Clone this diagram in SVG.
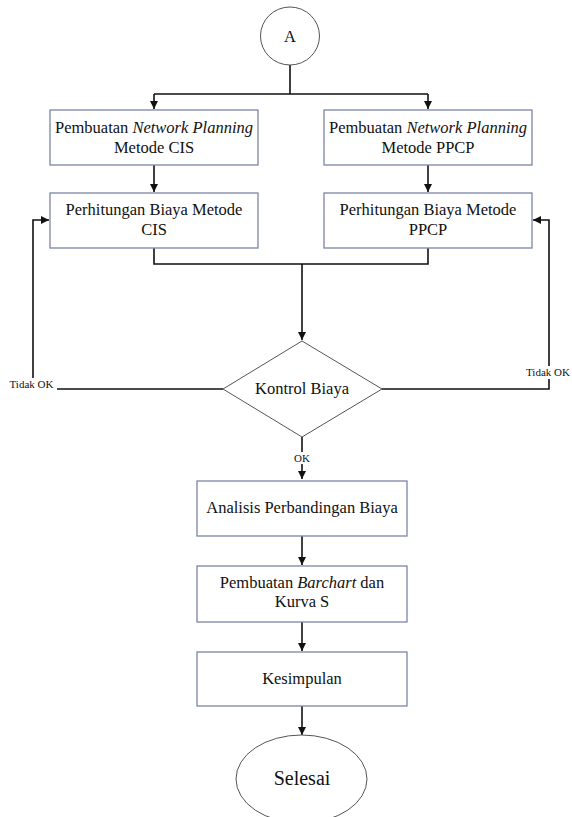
<svg xmlns="http://www.w3.org/2000/svg" width="572" height="817" viewBox="0 0 572 817">
<style>
text{font-family:'Liberation Serif','DejaVu Serif',serif;fill:#111;text-anchor:middle}
.t{font-size:16.5px}
.s{font-size:11px}
.box{fill:#fff;stroke:#7b86a6;stroke-width:1.3}
.shp{fill:#fff;stroke:#555;stroke-width:1}
.ln{fill:none;stroke:#111;stroke-width:1.6}
</style>
<defs>
<marker id="ah" viewBox="0 0 10 10" refX="10" refY="5" markerWidth="8" markerHeight="8" markerUnits="userSpaceOnUse" orient="auto">
<path d="M0,0 L10,5 L0,10 Z" fill="#111"/>
</marker>
</defs>
<g id="connectors">
<path class="ln" d="M290,65 V94 M154,94 H428" />
<path class="ln" d="M154,94 V109" marker-end="url(#ah)"/>
<path class="ln" d="M428,94 V109" marker-end="url(#ah)"/>
<path class="ln" d="M154,165 V192" marker-end="url(#ah)"/>
<path class="ln" d="M428,165 V192" marker-end="url(#ah)"/>
<path class="ln" d="M154,248 V264 H428 V248" />
<path class="ln" d="M302,264 V340" marker-end="url(#ah)"/>
<path class="ln" d="M223,389 H33 V220 H49" marker-end="url(#ah)"/>
<path class="ln" d="M382,389 H549 V220 H533" marker-end="url(#ah)"/>
<path class="ln" d="M302,437 V479" marker-end="url(#ah)"/>
<path class="ln" d="M302,536 V565" marker-end="url(#ah)"/>
<path class="ln" d="M302,622 V651" marker-end="url(#ah)"/>
<path class="ln" d="M302,706 V735" marker-end="url(#ah)"/>
<rect x="6" y="378" width="51" height="13" fill="#fff"/>
<text class="s" x="31.5" y="388">Tidak OK</text>
<rect x="523" y="366" width="49" height="13" fill="#fff"/>
<text class="s" x="548" y="376">Tidak OK</text>
<rect x="293" y="452" width="18" height="12" fill="#fff"/>
<text class="s" x="302" y="462">OK</text>
</g>
<g id="start">
<ellipse class="shp" cx="290" cy="36" rx="29.5" ry="29"/>
<text class="t" x="290" y="42">A</text>
</g>
<g id="np-cis">
<rect class="box" x="50" y="110" width="208" height="55"/>
<text class="t" x="154" y="133">Pembuatan <tspan font-style="italic">Network Planning</tspan></text>
<text class="t" x="154" y="153">Metode CIS</text>
</g>
<g id="np-ppcp">
<rect class="box" x="324" y="110" width="208" height="55"/>
<text class="t" x="428" y="133">Pembuatan <tspan font-style="italic">Network Planning</tspan></text>
<text class="t" x="428" y="153">Metode PPCP</text>
</g>
<g id="biaya-cis">
<rect class="box" x="50" y="193" width="208" height="55"/>
<text class="t" x="154" y="215">Perhitungan Biaya Metode</text>
<text class="t" x="154" y="235">CIS</text>
</g>
<g id="biaya-ppcp">
<rect class="box" x="324" y="193" width="208" height="55"/>
<text class="t" x="428" y="215">Perhitungan Biaya Metode</text>
<text class="t" x="428" y="235">PPCP</text>
</g>
<g id="kontrol">
<polygon class="shp" points="302,341 382,389 302,437 223,389"/>
<text class="t" x="302" y="394">Kontrol Biaya</text>
</g>
<g id="analisis">
<rect class="box" x="197" y="481" width="210" height="55"/>
<text class="t" x="302" y="513">Analisis Perbandingan Biaya</text>
</g>
<g id="barchart">
<rect class="box" x="197" y="566" width="210" height="56"/>
<text class="t" x="302" y="588">Pembuatan <tspan font-style="italic">Barchart</tspan> dan</text>
<text class="t" x="302" y="607">Kurva S</text>
</g>
<g id="kesimpulan">
<rect class="box" x="197" y="652" width="210" height="54"/>
<text class="t" x="302" y="684">Kesimpulan</text>
</g>
<g id="selesai">
<ellipse class="shp" cx="301.5" cy="779" rx="65.5" ry="44"/>
<text x="302" y="785" style="font-size:20px">Selesai</text>
</g>
</svg>
